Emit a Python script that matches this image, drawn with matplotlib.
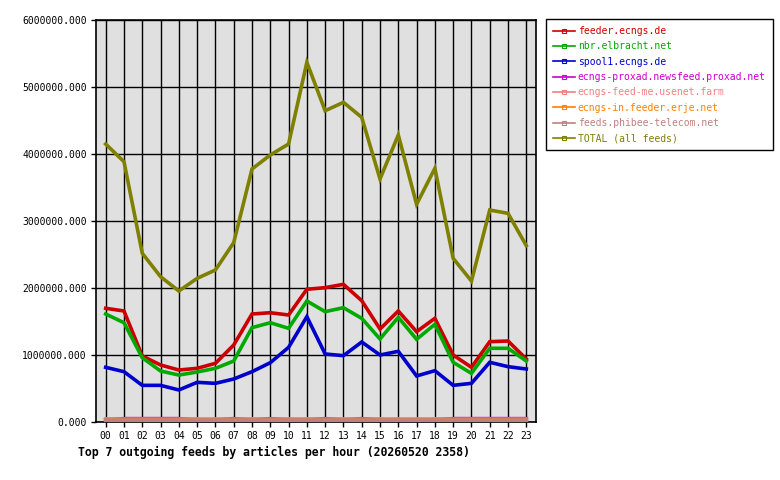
import matplotlib
matplotlib.use('Agg')
import matplotlib.pyplot as plt
from matplotlib.lines import Line2D
from matplotlib.ticker import FuncFormatter, MultipleLocator

hours = ['%02d' % h for h in range(24)]

feeds = ['feeder.ecngs.de', 'nbr.elbracht.net', 'spool1.ecngs.de',
         'ecngs-proxad.newsfeed.proxad.net', 'ecngs-feed-me.usenet.farm',
         'ecngs-in.feeder.erje.net', 'feeds.phibee-telecom.net',
         'TOTAL (all feeds)']
colors = ['#cc0000', '#00aa00', '#0000cc', '#cc00cc', '#f08080',
          '#ff8000', '#c08080', '#808000']

# articles per hour
feeder = [1697000, 1657000, 985000, 851000, 776000, 801000, 876000, 1149000,
          1612000, 1631000, 1597000, 1981000, 2005000, 2055000, 1811000, 1388000,
          1657000, 1348000, 1547000, 1000000, 816000, 1199000, 1209000, 940000]
nbr = [1612000, 1482000, 960000, 761000, 701000, 746000, 801000, 910000,
       1408000, 1482000, 1398000, 1806000, 1647000, 1706000, 1547000, 1239000,
       1562000, 1234000, 1458000, 891000, 726000, 1100000, 1100000, 910000]
spool1 = [816000, 751000, 547000, 547000, 478000, 592000, 577000, 642000,
          751000, 885000, 1114000, 1572000, 1015000, 990000, 1194000, 1000000,
          1055000, 687000, 766000, 547000, 577000, 891000, 826000, 791000]
proxad = [35000, 50000, 50000, 50000, 50000, 35000, 35000, 50000,
          35000, 50000, 35000, 35000, 50000, 35000, 50000, 35000,
          35000, 35000, 35000, 50000, 50000, 50000, 50000, 50000]
usenetfarm = [45000, 42000, 42000, 42000, 42000, 45000, 45000, 42000,
              45000, 42000, 45000, 45000, 42000, 45000, 42000, 45000,
              45000, 45000, 45000, 42000, 42000, 42000, 42000, 42000]
erje = [28000, 28000, 27000, 26000, 26000, 27000, 27000, 28000,
        28000, 28000, 29000, 30000, 29000, 29000, 28000, 27000,
        28000, 27000, 28000, 27000, 26000, 28000, 28000, 27000]
phibee = [28000, 28000, 27000, 27000, 26000, 27000, 27000, 28000,
          28000, 28000, 28000, 29000, 29000, 29000, 28000, 27000,
          28000, 27000, 28000, 27000, 27000, 28000, 28000, 27000]
total = [4149000, 3885000, 2518000, 2169000, 1955000, 2144000, 2269000, 2677000,
         3776000, 3985000, 4149000, 5368000, 4646000, 4771000, 4547000, 3627000,
         4284000, 3249000, 3786000, 2443000, 2104000, 3164000, 3114000, 2632000]

series = [feeder, nbr, spool1, proxad, usenetfarm, erje, phibee, total]

plt.rcParams['font.family'] = 'DejaVu Sans Mono'
plt.rcParams['font.size'] = 7

fig = plt.figure(figsize=(7.8, 4.8), dpi=100)
ax = fig.add_axes([96 / 780, 58 / 480, 440 / 780, 402 / 480])
ax.set_facecolor('#e0e0e0')

x = list(range(24))
for vals, c in zip(series, colors):
    ax.plot(x, vals, color=c, lw=2.6, solid_joinstyle='miter', zorder=3)

ax.set_xlim(-0.53, 23.53)
ax.set_ylim(0, 6000000)
ax.set_xticks(x)
ax.set_xticklabels(hours)
ax.yaxis.set_major_locator(MultipleLocator(1000000))
ax.yaxis.set_major_formatter(FuncFormatter(lambda v, p: '%.3f' % v))
ax.grid(True, color='black', lw=1, zorder=1)
ax.set_axisbelow(True)
for s in ax.spines.values():
    s.set_color('black')
    s.set_linewidth(1.2)
ax.tick_params(axis='both', length=3.5, width=1, color='black', labelsize=7, pad=3)

handles = [Line2D([0], [0], color=c, lw=1.2, marker='s', markersize=2.5,
                  fillstyle='none', markeredgewidth=0.8) for c in colors]
leg = fig.legend(handles, feeds, loc='upper left',
                 bbox_to_anchor=(546 / 780, 1 - 19 / 480),
                 prop={'size': 7}, labelcolor=colors,
                 frameon=True, fancybox=False, edgecolor='black',
                 handlelength=2.3, handletextpad=0.25, labelspacing=0.55,
                 borderpad=0.72, borderaxespad=0, numpoints=1)
leg.get_frame().set_linewidth(1)
leg.get_frame().set_alpha(1)

fig.text(78 / 780, 1 - 452 / 480,
         'Top 7 outgoing feeds by articles per hour (20260520 2358)',
         fontsize=8.3, fontweight='bold', va='center', ha='left')

fig.savefig('out.png', dpi=100)
